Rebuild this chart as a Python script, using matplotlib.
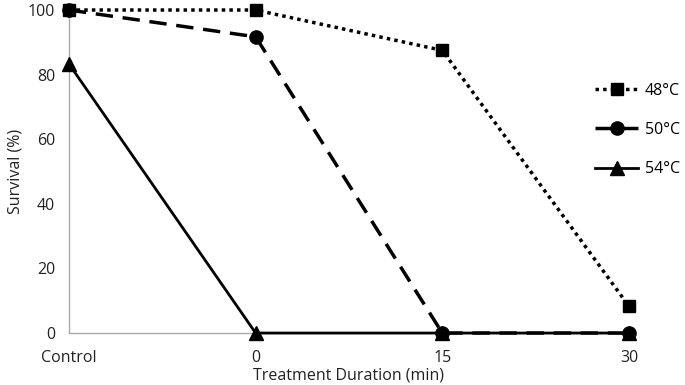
import matplotlib.pyplot as plt

categories = ["Control", "0", "15", "30"]
s48 = [100, 100, 87.5, 8.3]
s50 = [100, 91.7, 0, 0]
s54 = [83.3, 0, 0, 0]

plt.rcParams["font.family"] = ["Open Sans", "DejaVu Sans"]
plt.rcParams["font.size"] = 11.5

fig = plt.figure(figsize=(6.85, 3.85), dpi=100)
ax = fig.add_axes([0.1007, 0.135, 0.8175, 0.839])

x = range(len(categories))
ax.plot(x, s48, color="black", linestyle=(0, (1, 1.2)), linewidth=2.5, marker="s", markersize=9,
        label="48°C", clip_on=False, zorder=5)
ax.plot(x, s50, color="black", linestyle=(0, (5, 2.8)), linewidth=2.5, marker="o", markersize=9.5,
        label="50°C", clip_on=False, zorder=4)
ax.plot(x, s54, color="black", linestyle="-", linewidth=2, marker="^", markersize=9.5,
        label="54°C", clip_on=False, zorder=3)

ax.set_xlim(0, 3)
ax.set_ylim(0, 100)
ax.set_yticks([0, 20, 40, 60, 80, 100])
ax.set_xticks(list(x))
ax.set_xticklabels(categories)
ax.tick_params(length=0, pad=10, labelcolor="#222222")
ax.tick_params(axis="x", pad=12)

for side in ["top", "right"]:
    ax.spines[side].set_visible(False)
for side in ["left", "bottom"]:
    ax.spines[side].set_color("#aaaaaa")
    ax.spines[side].set_linewidth(1)

ax.set_xlabel("Treatment Duration (min)", labelpad=1, color="#222222")
ax.set_ylabel("Survival (%)", labelpad=3, color="#222222")

fig.legend(loc="center left", bbox_to_anchor=(595 / 685, 1 - 130 / 385), frameon=False,
           handlelength=2.7, labelspacing=1.45, handletextpad=0.4, borderpad=0,
           borderaxespad=0, fontsize=11.5)

plt.savefig("out.png", dpi=100)
